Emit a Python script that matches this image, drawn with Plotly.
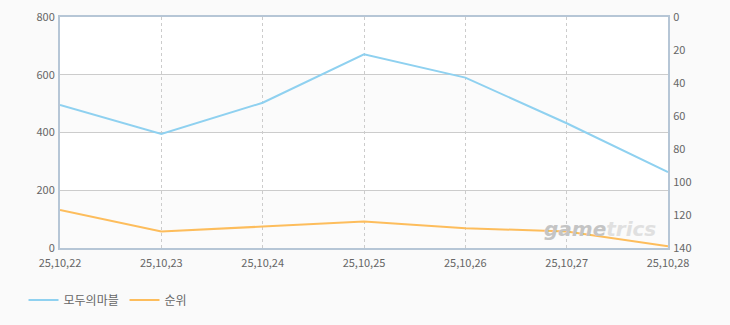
import plotly.graph_objects as go

dates = ["25,10,22", "25,10,23", "25,10,24", "25,10,25", "25,10,26", "25,10,27", "25,10,28"]
players = [495, 395, 503, 671, 590, 432, 263]
rank = [117, 130, 127, 124, 128, 130, 139]

name_a = "모두의마블"
name_b = "순위"

font_family = "Noto Sans CJK KR, DejaVu Sans, sans-serif"
idx = list(range(len(dates)))

fig = go.Figure()
fig.add_trace(go.Scatter(x=idx, y=players, name=name_a, mode="lines",
                         line=dict(color="#8fd1f0", width=2), yaxis="y"))
fig.add_trace(go.Scatter(x=idx, y=rank, name=name_b, mode="lines",
                         line=dict(color="#fdbd5c", width=2), yaxis="y2"))

shapes = []
for lo, hi in [(0, 200), (400, 600)]:
    shapes.append(dict(type="rect", xref="paper", yref="y", x0=0, x1=1, y0=lo, y1=hi,
                       fillcolor="#fbfbfb", line=dict(width=0), layer="below"))

fig.update_layout(
    width=730, height=325,
    margin=dict(l=60, r=62, t=17, b=77, autoexpand=False),
    paper_bgcolor="#fafafa",
    plot_bgcolor="#ffffff",
    font=dict(family=font_family, size=11, color="#666666"),
    shapes=shapes,
    xaxis=dict(range=[0, 6], tickvals=idx, ticktext=dates, showgrid=True,
               gridcolor="#cccccc", griddash="3px,3px", gridwidth=1,
               showline=True, linecolor="#b6c6d6", linewidth=2, mirror=True,
               zeroline=False, ticks="", ticklabelstandoff=4, automargin=False,
               tickfont=dict(size=11, color="#666666")),
    yaxis=dict(range=[0, 800], dtick=200, showgrid=True, gridcolor="#cccccc",
               showline=True, linecolor="#b6c6d6", linewidth=2, zeroline=False,
               ticks="", ticklabelstandoff=1, automargin=False,
               tickfont=dict(size=11, color="#666666")),
    yaxis2=dict(range=[140, 0], dtick=20, overlaying="y", side="right",
                showgrid=False, showline=True, linecolor="#b6c6d6", linewidth=2,
                zeroline=False, ticks="", ticklabelstandoff=1, automargin=False,
                tickfont=dict(size=11, color="#666666")),
    legend=dict(orientation="h", x=-0.06, xanchor="left", y=-0.225, yanchor="middle",
                bgcolor="rgba(0,0,0,0)", font=dict(size=12, color="#666666"),
                entrywidth=56, entrywidthmode="pixels", tracegroupgap=0),
    showlegend=True,
    annotations=[dict(xref="paper", yref="paper", x=0.984, y=0.082,
                      xanchor="right", yanchor="middle",
                      text="<b><i>game<span style='color:#e0e0e0'>trics</span></i></b>",
                      showarrow=False, font=dict(size=20, color="#c4c4c4",
                                                 family="DejaVu Sans, sans-serif"))],
)

fig.write_html("out.html")
